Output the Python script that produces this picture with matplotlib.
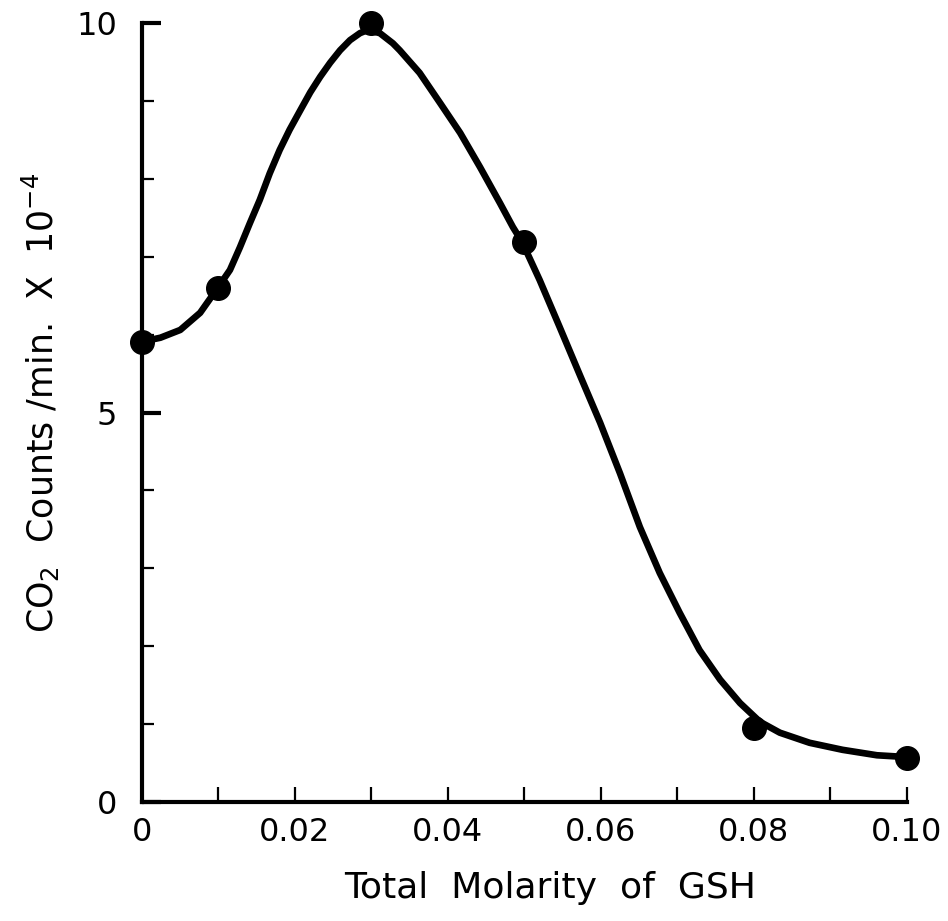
import matplotlib
matplotlib.use('Agg')
import matplotlib.pyplot as plt
from matplotlib.ticker import MultipleLocator, FixedLocator

# measured points
gsh = [0.0, 0.01, 0.03, 0.05, 0.08, 0.10]
counts = [5.90, 6.60, 10.0, 7.19, 0.95, 0.56]

# hand-drawn smooth curve
curve_x = [0.0, 0.0024, 0.0050, 0.0076, 0.0099, 0.0115, 0.0128, 0.0141, 0.0154,
           0.0167, 0.0180, 0.0193, 0.0207, 0.0220, 0.0233, 0.0246, 0.0259,
           0.0272, 0.0285, 0.0295, 0.0311, 0.0328, 0.0337, 0.0363, 0.0390,
           0.0416, 0.0442, 0.0468, 0.0485, 0.0497, 0.0520, 0.0546, 0.0573,
           0.0599, 0.0625, 0.0651, 0.0677, 0.0703, 0.0729, 0.0756, 0.0782,
           0.0808, 0.0834, 0.0873, 0.0916, 0.0961, 0.0995]
curve_y = [5.91, 5.96, 6.06, 6.28, 6.60, 6.83, 7.12, 7.43, 7.73,
           8.07, 8.37, 8.63, 8.88, 9.11, 9.31, 9.49, 9.65,
           9.78, 9.87, 9.91, 9.87, 9.74, 9.65, 9.36, 8.97,
           8.59, 8.15, 7.69, 7.38, 7.19, 6.70, 6.10, 5.47,
           4.87, 4.22, 3.53, 2.94, 2.43, 1.95, 1.57, 1.27,
           1.03, 0.89, 0.76, 0.67, 0.60, 0.58]

xticks_major = [0, 0.02, 0.04, 0.06, 0.08, 0.10]
xtick_labels = ['0', '0.02', '0.04', '0.06', '0.08', '0.10']
yticks_major = [0, 5, 10]
ytick_labels = ['0', '5', '10']

plt.rcParams['font.family'] = 'DejaVu Sans'

fig = plt.figure(figsize=(9.48, 9.21), dpi=100)
ax = fig.add_axes([0.1498, 0.1292, 0.8067, 0.8458])

ax.plot(curve_x, curve_y, color='black', lw=4.8, solid_capstyle='round',
        solid_joinstyle='round', clip_on=False)
ax.plot(gsh, counts, 'o', color='black', ms=17, clip_on=False, zorder=3)

ax.set_xlim(0, 0.10)
ax.set_ylim(0, 10)

for s in ['top', 'right']:
    ax.spines[s].set_visible(False)
for s in ['left', 'bottom']:
    ax.spines[s].set_linewidth(3)

ax.xaxis.set_major_locator(FixedLocator(xticks_major))
ax.xaxis.set_minor_locator(MultipleLocator(0.01))
ax.set_xticklabels(xtick_labels)
ax.yaxis.set_major_locator(FixedLocator(yticks_major))
ax.yaxis.set_minor_locator(MultipleLocator(1))
ax.set_yticklabels(ytick_labels)

ax.tick_params(axis='x', which='both', direction='in', length=11, width=1.6,
               labelsize=23, pad=11)
ax.tick_params(axis='y', which='major', direction='in', length=14, width=3,
               labelsize=23, pad=18)
ax.tick_params(axis='y', which='minor', direction='in', length=8.5, width=1.6)

ax.set_xlabel('Total  Molarity  of  GSH', fontsize=26)
ax.xaxis.set_label_coords(0.533, -0.088)
ax.set_ylabel('CO$_2$  Counts /min.  X  10$^{-4}$', fontsize=25)
ax.yaxis.set_label_coords(-0.105, 0.512)

fig.savefig('out.png', dpi=100)
